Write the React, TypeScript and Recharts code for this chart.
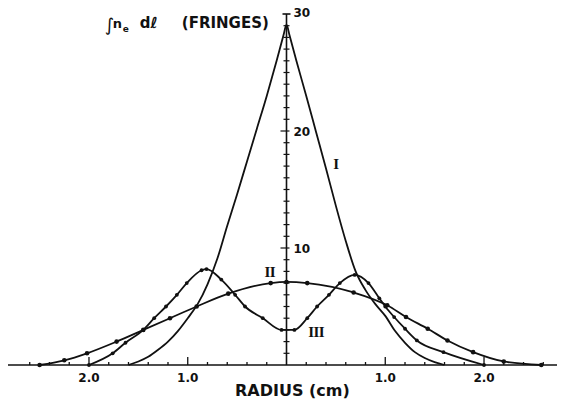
import React from 'react'
import {
  ComposedChart,
  Line,
  Scatter,
  XAxis,
  YAxis,
  ReferenceLine,
} from 'recharts'

// curve I: sharp central peak (no markers)
const rI = [-1.6, -1.5, -1.4, -1.3, -1.2, -1.1, -1.0, -0.9, -0.8, -0.7, -0.6, -0.5, -0.4, -0.3, -0.2, -0.1, -0.03, 0, 0.03, 0.1, 0.2, 0.3, 0.4, 0.5, 0.6, 0.7, 0.8, 0.9, 1.0, 1.1, 1.2, 1.3, 1.4, 1.5, 1.6]
const vI = [0, 0.3, 0.7, 1.3, 2.0, 2.9, 4.0, 5.2, 6.9, 9.1, 11.9, 14.6, 17.4, 20.2, 23.0, 26.0, 28.2, 29.1, 28.2, 26.0, 23.0, 19.9, 16.8, 13.6, 10.6, 8.0, 6.4, 5.2, 4.2, 2.9, 1.9, 1.1, 0.6, 0.25, 0]

// curve II: broad profile
const rII = [-2.5, -2.25, -2.02, -1.72, -1.45, -1.18, -0.91, -0.59, -0.16, 0, 0.21, 0.68, 1.02, 1.21, 1.43, 1.63, 1.89, 2.2, 2.58]
const vII = [0, 0.4, 1.0, 2.0, 3.0, 4.0, 5.0, 6.1, 7.0, 7.1, 7.0, 6.2, 5.1, 4.1, 3.1, 2.1, 1.1, 0.3, 0]

// curve III: hollow profile
const rIII = [-2.0, -1.76, -1.63, -1.45, -1.34, -1.22, -1.11, -1.01, -0.86, -0.81, -0.66, -0.52, -0.42, -0.24, -0.05, 0.08, 0.21, 0.31, 0.43, 0.54, 0.69, 0.83, 0.94, 1.0, 1.09, 1.2, 1.32, 1.59, 2.0]
const vIII = [0, 1.0, 1.9, 3.0, 4.0, 5.0, 6.0, 7.0, 8.1, 8.2, 7.3, 6.0, 5.0, 4.0, 3.0, 3.0, 4.0, 5.0, 6.0, 7.0, 7.7, 7.0, 5.7, 5.0, 4.1, 3.1, 2.1, 1.1, 0]

const xTicks = [-2.6, -2.4, -2.2, -2.0, -1.8, -1.6, -1.4, -1.2, -1.0, -0.8, -0.6, -0.4, -0.2, 0.2, 0.4, 0.6, 0.8, 1.0, 1.2, 1.4, 1.6, 1.8, 2.0, 2.2, 2.4, 2.6]
const xMajor = [-2, -1, 1, 2]
const yTicks = [1, 2, 3, 4, 5, 6, 7, 8, 9, 10, 11, 12, 13, 14, 15, 16, 17, 18, 19, 20, 21, 22, 23, 24, 25, 26, 27, 28, 29, 30]
const yMajor = [10, 20, 30]

// text placed in data units (r, value)
const curveNames = ['I', 'II', 'III']
const nameR = [0.5, -0.17, 0.3]
const nameV = [17.2, 7.95, 2.82]

const zip = (rs: number[], vs: number[]) => rs.map((r, i) => ({ r, v: vs[i] }))

const dataI = zip(rI, vI)
const dataII = zip(rII, vII)
const dataIII = zip(rIII, vIII)
const tickData = yTicks.map((v) => ({ r: 0, v }))
const nameData = curveNames.map((t, i) => ({ r: nameR[i], v: nameV[i], t }))
const titleData = [{ r: -1.84, v: 28.8, t: 'y' }, { r: 0.06, v: 0, t: 'x' }]

const INK = '#111'
const SANS = '"DejaVu Sans", Arial, sans-serif'
const SERIF = '"Liberation Serif", "DejaVu Serif", serif'

function XTick(props: any) {
  const { x, y, payload } = props
  const major = xMajor.includes(payload.value)
  return (
    <g>
      <line x1={x} x2={x} y1={y} y2={y - (major ? 8 : 3)} stroke={INK} strokeWidth={1.3} />
      {major && (
        <text x={x} y={y + 17} textAnchor="middle" fontSize={12} fontWeight="bold" fontFamily={SANS} fill={INK}>
          {Math.abs(payload.value).toFixed(1)}
        </text>
      )}
    </g>
  )
}

function YTickShape(props: any) {
  const { cx, cy, payload } = props
  const v = payload.v
  if (v === 30) {
    return (
      <g>
        <line x1={cx - 4} x2={cx + 4} y1={cy} y2={cy} stroke={INK} strokeWidth={1.6} />
        <text x={cx + 7} y={cy + 3} fontSize={12} fontWeight="bold" fontFamily={SANS} fill={INK}>30</text>
      </g>
    )
  }
  const major = yMajor.includes(v)
  return (
    <g>
      <line x1={cx - (major ? 6 : 3)} x2={cx + 3} y1={cy} y2={cy} stroke={INK} strokeWidth={1.2} />
      {major && (
        <text x={cx + 7} y={cy + 4.5} fontSize={12} fontWeight="bold" fontFamily={SANS} fill={INK}>{v}</text>
      )}
    </g>
  )
}

function NameShape(props: any) {
  const { cx, cy, payload } = props
  return (
    <text x={cx} y={cy + 5} textAnchor="middle" fontSize={15} fontWeight="bold" fontFamily={SERIF} letterSpacing={-0.6} fill={INK}>
      {payload.t}
    </text>
  )
}

function TitleShape(props: any) {
  const { cx, cy, payload } = props
  if (payload.t === 'x') {
    // axis title sits under the tick labels
    return (
      <text x={cx} y={cy + 31} textAnchor="middle" fontSize={16} fontWeight="bold" fontFamily={SANS} fill={INK}>
        RADIUS (cm)
      </text>
    )
  }
  return (
    <g fill={INK} fontFamily={SANS} fontWeight="bold">
      <text x={cx} y={cy + 3} fontSize={18} fontStyle="italic" fontWeight="normal">∫</text>
      <text x={cx + 8} y={cy} fontSize={13}>n</text>
      <text x={cx + 18} y={cy + 4} fontSize={9}>e</text>
      <text x={cx + 35} y={cy} fontSize={15}>dℓ</text>
      <text x={cx + 77} y={cy} fontSize={15}>(FRINGES)</text>
    </g>
  )
}

export default function App() {
  return (
    <div style={{ marginTop: -8, marginLeft: -8, width: 565, height: 400, background: '#fff' }}>
      <ComposedChart width={565} height={400} margin={{ top: 14, right: 0, left: 8, bottom: 0 }}>
        <XAxis
          type="number"
          dataKey="r"
          domain={[-2.82, 2.82]}
          ticks={xTicks}
          interval={0}
          tick={<XTick />}
          tickLine={false}
          tickSize={0}
          tickMargin={0}
          axisLine={{ stroke: INK, strokeWidth: 1.5 }}
          height={35}
        />
        <YAxis hide type="number" domain={[0, 30]} />
        <ReferenceLine x={0} stroke={INK} strokeWidth={1.6} />
        <Scatter data={tickData} dataKey="v" shape={YTickShape} isAnimationActive={false} />
        <Line
          data={dataI}
          dataKey="v"
          type="monotone"
          stroke={INK}
          strokeWidth={1.8}
          dot={false}
          activeDot={false}
          isAnimationActive={false}
        />
        <Line
          data={dataII}
          dataKey="v"
          type="monotone"
          stroke={INK}
          strokeWidth={1.8}
          dot={{ r: 2.3, fill: INK, stroke: 'none' }}
          activeDot={false}
          isAnimationActive={false}
        />
        <Line
          data={dataIII}
          dataKey="v"
          type="monotone"
          stroke={INK}
          strokeWidth={1.8}
          dot={{ r: 1.9, fill: INK, stroke: 'none' }}
          activeDot={false}
          isAnimationActive={false}
        />
        <Scatter data={nameData} dataKey="v" shape={NameShape} isAnimationActive={false} />
        <Scatter data={titleData} dataKey="v" shape={TitleShape} isAnimationActive={false} />
      </ComposedChart>
    </div>
  )
}
